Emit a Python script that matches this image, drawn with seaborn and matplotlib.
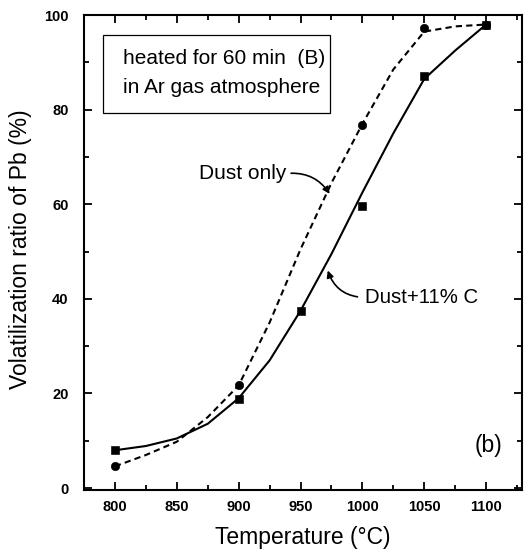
import matplotlib
matplotlib.use("Agg")
import matplotlib.pyplot as plt
import seaborn as sns
from matplotlib.patches import Rectangle
from matplotlib.ticker import MultipleLocator

# smooth fitted curves (every 25 degC)
curve_temp = [800, 825, 850, 875, 900, 925, 950, 975, 1000, 1025, 1050, 1075, 1100]
dust_curve = [4.6, 7.0, 9.8, 15.0, 21.7, 35.0, 50.5, 64.5, 77.0, 88.5, 96.5, 97.6, 98.0]
carbon_curve = [8.0, 8.9, 10.5, 13.6, 19.0, 27.0, 37.5, 49.5, 62.5, 75.0, 86.5, 92.5, 98.0]

# measured points
dust_temp = [800, 900, 1000, 1050, 1100]
dust_vals = [4.6, 21.7, 76.8, 97.3, 98.0]
carbon_temp = [800, 900, 950, 1000, 1050, 1100]
carbon_vals = [8.0, 18.8, 37.4, 59.7, 87.1, 97.9]

x_ticks = [800, 850, 900, 950, 1000, 1050, 1100]
y_ticks = [0, 20, 40, 60, 80, 100]

sns.set_theme(style="ticks")
plt.rcParams["font.family"] = ["Liberation Sans", "DejaVu Sans"]
plt.rcParams["text.color"] = "black"
plt.rcParams["axes.labelcolor"] = "black"

fig = plt.figure(figsize=(5.29, 5.51), dpi=100)
ax = fig.add_axes([0.1588, 0.1107, 0.828, 0.862])

sns.lineplot(x=curve_temp, y=dust_curve, ax=ax, color="black", lw=1.5,
             linestyle=(0, (3, 2)), sort=False)
sns.lineplot(x=curve_temp, y=carbon_curve, ax=ax, color="black", lw=1.5, sort=False)
sns.scatterplot(x=dust_temp, y=dust_vals, ax=ax, marker="o", s=36,
                color="black", edgecolor="black", zorder=5)
sns.scatterplot(x=carbon_temp, y=carbon_vals, ax=ax, marker="s", s=30,
                color="black", edgecolor="black", zorder=5)

ax.set_xlim(775, 1129)
ax.set_ylim(-0.4, 100)
ax.set_xticks(x_ticks)
ax.set_yticks(y_ticks)
ax.xaxis.set_minor_locator(MultipleLocator(25))
ax.yaxis.set_minor_locator(MultipleLocator(10))
ax.tick_params(which="both", direction="in", top=True, right=True, width=1.3,
               colors="black")
ax.tick_params(which="major", length=6)
ax.tick_params(which="minor", length=3.5)
ax.tick_params(axis="x", pad=7)
ax.tick_params(axis="y", pad=11)
for lab in ax.get_xticklabels() + ax.get_yticklabels():
    lab.set_fontsize(10.5)
    lab.set_fontweight("bold")
for sp in ax.spines.values():
    sp.set_linewidth(1.5)
    sp.set_color("black")

ax.set_xlabel("Temperature (°C)", fontsize=16.5)
ax.set_ylabel("Volatilization ratio of Pb (%)", fontsize=16.5)
ax.xaxis.label.set_va("center")
ax.yaxis.label.set_va("center")
ax.xaxis.set_label_coords(0.5, -0.101)
ax.yaxis.set_label_coords(-0.146, 0.507)

# condition box
ax.add_patch(Rectangle((0.043, 0.794), 0.519, 0.164, transform=ax.transAxes,
                       fill=False, lw=0.9, ec="black", zorder=6))
ax.text(0.089, 0.909, "heated for 60 min  (B)", transform=ax.transAxes,
        fontsize=15, va="center", ha="left")
ax.text(0.089, 0.848, "in Ar gas atmosphere", transform=ax.transAxes,
        fontsize=15, va="center", ha="left")

# curve labels
ax.annotate("Dust only", xy=(973.5, 62.2), xytext=(868, 66.5),
            fontsize=15, va="center", ha="left",
            arrowprops=dict(arrowstyle="-|>", color="black", lw=1.2,
                            mutation_scale=10, relpos=(1, 0.5),
                            shrinkA=1, shrinkB=0,
                            connectionstyle="arc3,rad=-0.3"))
ax.annotate("Dust+11% C", xy=(972, 46.0), xytext=(1002, 40.3),
            fontsize=14.7, va="center", ha="left",
            arrowprops=dict(arrowstyle="-|>", color="black", lw=1.2,
                            mutation_scale=10, relpos=(0, 0.5),
                            shrinkA=3, shrinkB=0,
                            connectionstyle="arc3,rad=-0.35"))
ax.text(1102, 9.1, "(b)", fontsize=16.5, ha="center", va="center")

fig.savefig("out.png", dpi=100)
